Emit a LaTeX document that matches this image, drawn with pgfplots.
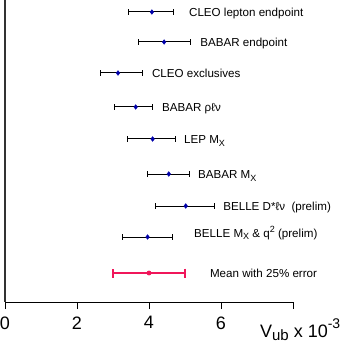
\documentclass[border=0pt]{standalone}
\usepackage{pgfplots}
\pgfplotsset{compat=1.18}
\usepackage{fontspec}
\setmainfont{Liberation Sans}
\definecolor{meanred}{RGB}{240,22,90}
\definecolor{ptblue}{RGB}{0,0,170}
\newcommand{\sub}[1]{\raisebox{-0.45ex}{\fontsize{9}{9}\selectfont #1}}

\begin{document}
\begin{tikzpicture}
\useasboundingbox (-5pt,-45pt) rectangle (350pt,302pt);
\begin{axis}[
  scale only axis,
  width=288pt, height=302pt,
  xmin=0, xmax=8, ymin=0, ymax=302,
  y dir=reverse,
  axis x line*=bottom, axis y line*=left,
  axis line style={-},
  y axis line style={line width=1.3pt, black!80},
  x axis line style={line width=0.8pt},
  ytick=\empty,
  xtick={0,2,4,6,8},
  xticklabels={0,2,4,6,},
  major tick length=7pt,
  tick style={line width=0.8pt, black},
  tick align=outside,
  /pgf/number format/assume math mode=true,
  xticklabel style={font=\fontsize{18}{18}\selectfont, yshift=-4pt},
  clip=false,
]
\addplot[only marks, mark=diamond*, mark size=2.4pt, color=ptblue,
  error bars/.cd, x dir=both, x explicit,
  error bar style={black, line width=1pt},
  error mark options={rotate=90, black, line width=1pt, mark size=2.6pt}]
  table[x=x, y=y, x error plus=ep, x error minus=em] {
  x    y    ep   em
  4.08 12   0.61 0.64
  4.42 42   0.74 0.72
  3.14 73   0.68 0.50
  3.63 107  0.46 0.60
  4.10 139  0.65 0.69
  4.55 174  0.57 0.59
  5.02 206  0.81 0.85
  3.96 237  0.69 0.70
};
\addplot[only marks, mark=*, mark size=2.2pt, color=meanred,
  error bars/.cd, x dir=both, x explicit,
  error bar style={meanred, line width=2pt},
  error mark options={rotate=90, meanred, line width=2pt, mark size=4.5pt}]
  coordinates {(4.0,273) +- (1.0,0)};

\begin{scope}[every node/.style={anchor=base west, inner sep=0pt, font=\fontsize{11.6}{13}\selectfont}]
\node at (axis cs:5.11,16.5) {CLEO lepton endpoint};
\node at (axis cs:5.42,46.5) {BABAR endpoint};
\node at (axis cs:4.08,77.5) {CLEO exclusives};
\node at (axis cs:4.36,111.5) {BABAR ρℓν};
\node at (axis cs:4.97,143.5) {LEP M\sub{X}};
\node at (axis cs:5.36,178.5) {BABAR M\sub{X}};
\node at (axis cs:6.06,210.5) {BELLE D*ℓν\ \ (prelim)};
\node at (axis cs:5.25,237) {BELLE M\sub{X} \& q\raisebox{0.8ex}{\fontsize{9}{9}\selectfont 2} (prelim)};
\node at (axis cs:5.69,277) {Mean with 25\% error};
\end{scope}
\node[anchor=base west, inner sep=0pt, font=\fontsize{18}{18}\selectfont]
  at (axis cs:7.08,337) {V\raisebox{-0.4ex}{\fontsize{15}{15}\selectfont ub} x 10\raisebox{0.85ex}{\fontsize{14}{14}\selectfont -3}};
\end{axis}
\end{tikzpicture}
\end{document}
